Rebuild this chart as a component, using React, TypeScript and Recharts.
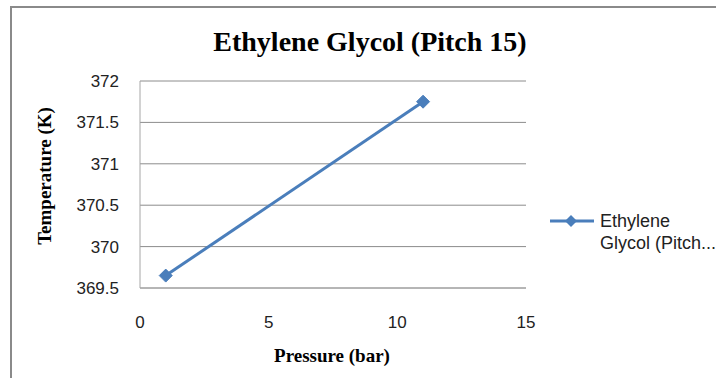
import { LineChart, Line, XAxis, YAxis, CartesianGrid, Customized } from "recharts";

const pressures = [1, 11];
const temperatures = [369.65, 371.75];
const xTicks = [0, 5, 10, 15];
const yTicks = [369.5, 370, 370.5, 371, 371.5, 372];
const legendLines = ["Ethylene", "Glycol (Pitch..."];

const data = pressures.map((p, i) => ({ pressure: p, temp: temperatures[i] }));

const BLUE = "#4a7ebb";
const SERIF = "'Liberation Serif', 'Times New Roman', serif";
const SANS = "'Liberation Sans', Arial, sans-serif";

const Diamond = (props: any) => {
  const { cx, cy, index } = props;
  const r = 6.5;
  return (
    <path
      key={`dot-${index}`}
      d={`M${cx},${cy - r}L${cx + r},${cy}L${cx},${cy + r}L${cx - r},${cy}Z`}
      fill={BLUE}
      stroke={BLUE}
    />
  );
};

const Titles = () => (
  <g fontFamily={SERIF} fontWeight="bold" fill="#000">
    <text x={370} y={51} fontSize={28} textAnchor="middle">
      Ethylene Glycol (Pitch 15)
    </text>
    <text x={332} y={362} fontSize={19} textAnchor="middle">
      Pressure (bar)
    </text>
    <text
      x={51}
      y={176}
      fontSize={19}
      textAnchor="middle"
      transform="rotate(-90 51 176)"
    >
      Temperature (K)
    </text>
  </g>
);

// series key drawn to the right of the plot
const LegendBox = () => (
  <div
    style={{
      position: "absolute",
      left: 548,
      top: 210,
      display: "flex",
      alignItems: "flex-start",
      fontFamily: SANS,
      fontSize: 18,
      color: "#222",
    }}
  >
    <svg width={52} height={22}>
      <line x1={2} y1={11} x2={46} y2={11} stroke={BLUE} strokeWidth={3} />
      <path d="M23,5L29,11L23,17L17,11Z" fill={BLUE} />
    </svg>
    <div style={{ lineHeight: "22px", whiteSpace: "nowrap" }}>
      {legendLines.map((t) => (
        <div key={t}>{t}</div>
      ))}
    </div>
  </div>
);

export default function App() {
  return (
    <div style={{ position: "absolute", left: 0, top: 0, width: 716, height: 378, background: "#fff", overflow: "hidden" }}>
      <div
        style={{
          position: "absolute",
          left: 10,
          top: 6,
          width: 706,
          height: 372,
          borderTop: "2px solid #8a8a8a",
          borderLeft: "2px solid #8a8a8a",
          boxSizing: "border-box",
        }}
      />
      <LineChart
        width={716}
        height={378}
        data={data}
        margin={{ top: 81, right: 190, bottom: 60, left: 0 }}
        style={{ position: "absolute", left: 0, top: 0 }}
      >
        <CartesianGrid vertical={false} stroke="#8c8c8c" strokeWidth={1} />
        <XAxis
          dataKey="pressure"
          type="number"
          domain={[0, 15]}
          ticks={xTicks}
          height={30}
          stroke="#a6a6a6"
          tickLine={false}
          tickSize={0}
          tickMargin={28}
          tick={{ fill: "#222", fontSize: 17, fontFamily: SANS }}
        />
        <YAxis
          type="number"
          domain={[369.5, 372]}
          ticks={yTicks}
          width={140}
          stroke="#a6a6a6"
          tickLine={false}
          tickSize={0}
          tickMargin={21}
          tick={{ fill: "#222", fontSize: 17, fontFamily: SANS }}
        />
        <Line
          dataKey="temp"
          stroke={BLUE}
          strokeWidth={3}
          dot={Diamond}
          activeDot={false}
          isAnimationActive={false}
        />
        <Customized component={Titles} />
      </LineChart>
      <LegendBox />
    </div>
  );
}
